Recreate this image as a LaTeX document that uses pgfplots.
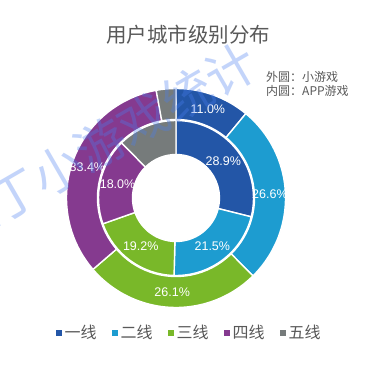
\documentclass[border=0pt]{standalone}
\usepackage{fontspec}
\setmainfont{Liberation Sans}
\newfontfamily\cjk{Noto Sans CJK SC}
\usepackage{pgfplots}
\usepackage{pgfplotstable}
\pgfplotsset{compat=1.18}

\definecolor{c0}{HTML}{2356A7}
\definecolor{c1}{HTML}{1D9CD0}
\definecolor{c2}{HTML}{79B829}
\definecolor{c3}{HTML}{853A8F}
\definecolor{c4}{HTML}{767B7B}
\definecolor{txt}{HTML}{595959}
\definecolor{wm}{HTML}{4A7FF0}

\pgfplotstableread{
idx outer inner
0 11.0 28.9
1 26.6 21.5
2 26.1 19.2
3 33.4 18.0
4 2.9 12.4
}\datatable

\newcommand\gv[1]{\csname #1\endcsname}
\def\cumO{0}\def\cumI{0}
\pgfplotsforeachungrouped \idx in {0,1,2,3,4}{%
  \pgfplotstablegetelem{\idx}{outer}\of\datatable \let\vO\pgfplotsretval
  \pgfplotstablegetelem{\idx}{inner}\of\datatable \let\vI\pgfplotsretval
  \pgfmathsetmacro\sO{90-3.6*\cumO}%
  \pgfmathsetmacro\cumO{\cumO+\vO}%
  \pgfmathsetmacro\eO{90-3.6*\cumO}%
  \pgfmathsetmacro\mO{(\sO+\eO)/2}%
  \pgfmathsetmacro\sI{90-3.6*\cumI}%
  \pgfmathsetmacro\cumI{\cumI+\vI}%
  \pgfmathsetmacro\eI{90-3.6*\cumI}%
  \pgfmathsetmacro\mI{(\sI+\eI)/2}%
  \expandafter\xdef\csname oS\idx\endcsname{\sO}%
  \expandafter\xdef\csname oE\idx\endcsname{\eO}%
  \expandafter\xdef\csname oM\idx\endcsname{\mO}%
  \expandafter\xdef\csname oV\idx\endcsname{\vO}%
  \expandafter\xdef\csname iS\idx\endcsname{\sI}%
  \expandafter\xdef\csname iE\idx\endcsname{\eI}%
  \expandafter\xdef\csname iM\idx\endcsname{\mI}%
  \expandafter\xdef\csname iV\idx\endcsname{\vI}%
}

\begin{document}
\begin{tikzpicture}
\useasboundingbox (0,0) rectangle (379pt,366pt);
\clip (0,0) rectangle (379pt,366pt);
\fill[white] (0,0) rectangle (379pt,366pt);
\begin{axis}[
  at={(176pt,168pt)}, anchor=center,
  scale only axis, width=218pt, height=218pt,
  xmin=-109, xmax=109, ymin=-109, ymax=109,
  hide axis, clip=false,
  legend columns=5,
  legend style={draw=none, fill=none, at={(axis cs:13,-135)}, anchor=center,
    font=\cjk\fontsize{16}{16}\selectfont, text=txt,
    /tikz/every odd column/.append style={column sep=1pt},
    /tikz/every even column/.append style={column sep=13pt}},
  legend image code/.code={\fill (0pt,-3pt) rectangle (6pt,3pt);},
]
\pgfplotsinvokeforeach{0,1,2,3,4}{
  \fill[c#1, draw=white, line width=1.4pt]
    (axis cs:{109.5*cos(\gv{oS#1})},{109.5*sin(\gv{oS#1})})
    arc[start angle=\gv{oS#1}, end angle=\gv{oE#1}, radius=109.5pt]
    -- (axis cs:{78.5*cos(\gv{oE#1})},{78.5*sin(\gv{oE#1})})
    arc[start angle=\gv{oE#1}, end angle=\gv{oS#1}, radius=78.5pt] -- cycle;
  \fill[c#1, draw=white, line width=1.4pt]
    (axis cs:{77.5*cos(\gv{iS#1})},{77.5*sin(\gv{iS#1})})
    arc[start angle=\gv{iS#1}, end angle=\gv{iE#1}, radius=77.5pt]
    -- (axis cs:{43.5*cos(\gv{iE#1})},{43.5*sin(\gv{iE#1})})
    arc[start angle=\gv{iE#1}, end angle=\gv{iS#1}, radius=43.5pt] -- cycle;
}
\pgfplotsinvokeforeach{0,1,2,3}{
  \node[text=white, font=\fontsize{12.5}{12.5}\selectfont] at (axis cs:{94*cos(\gv{oM#1})},{94*sin(\gv{oM#1})}) {\gv{oV#1}\%};
  \node[text=white, font=\fontsize{12.5}{12.5}\selectfont] at (axis cs:{60*cos(\gv{iM#1})},{60*sin(\gv{iM#1})}) {\gv{iV#1}\%};
}
\addlegendimage{fill=c0, draw=none}\addlegendentry{一线}
\addlegendimage{fill=c1, draw=none}\addlegendentry{二线}
\addlegendimage{fill=c2, draw=none}\addlegendentry{三线}
\addlegendimage{fill=c3, draw=none}\addlegendentry{四线}
\addlegendimage{fill=c4, draw=none}\addlegendentry{五线}
\end{axis}
\node[text=txt, font=\cjk\fontsize{20.5}{20.5}\selectfont] at (188pt,331pt) {用户城市级别分布};
\node[text=txt, font=\cjk\fontsize{12}{12}\selectfont, anchor=west, inner sep=0pt] at (266pt,289pt) {外圆：小游戏};
\node[text=txt, font=\cjk\fontsize{12}{12}\selectfont, anchor=west, inner sep=0pt] at (266pt,275pt) {内圆：APP游戏};
\node[text=wm, text opacity=0.33, rotate=30, font=\cjk\fontsize{50}{50}\selectfont] at (79pt,209pt) {阿拉丁小游戏统计};
\end{tikzpicture}
\end{document}
